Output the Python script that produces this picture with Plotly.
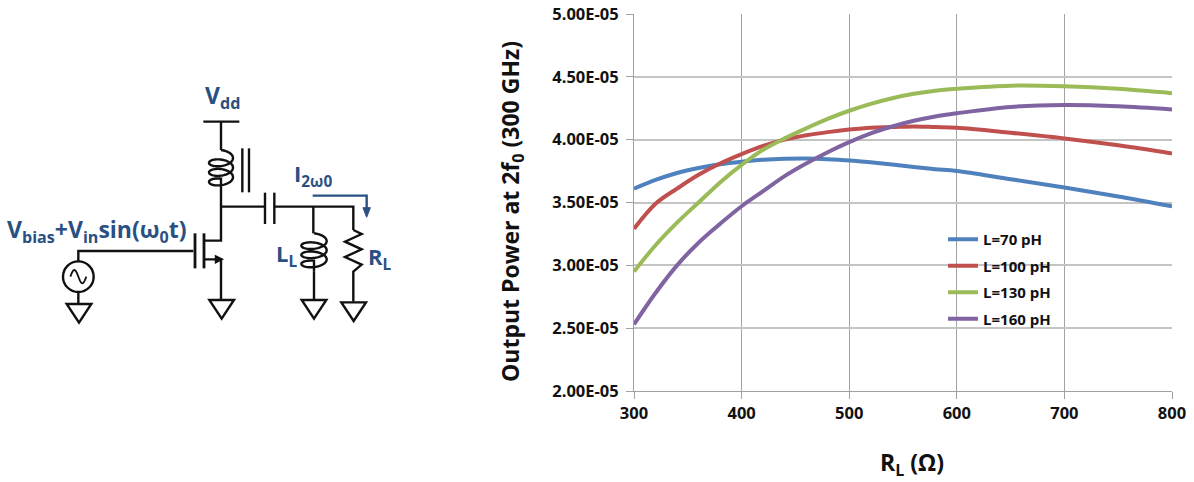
import math
import plotly.graph_objects as go

W, H = 1194, 482
RL = [300, 320, 340, 360, 380, 400, 420, 440, 460, 480, 500, 520, 540, 560, 580, 600, 650, 700, 750, 800]
L70 = [3.61, 3.68, 3.735, 3.775, 3.805, 3.825, 3.84, 3.848, 3.85, 3.845, 3.835, 3.82, 3.802, 3.783, 3.765, 3.75, 3.685, 3.62, 3.548, 3.47]
L100 = [3.29, 3.49, 3.61, 3.72, 3.81, 3.885, 3.95, 4.00, 4.035, 4.06, 4.08, 4.095, 4.10, 4.105, 4.10, 4.095, 4.055, 4.01, 3.955, 3.89]
L130 = [2.95, 3.16, 3.34, 3.50, 3.66, 3.80, 3.92, 4.01, 4.09, 4.165, 4.23, 4.285, 4.33, 4.365, 4.39, 4.405, 4.43, 4.425, 4.405, 4.37]
L160 = [2.53, 2.78, 3.00, 3.18, 3.33, 3.47, 3.59, 3.71, 3.81, 3.90, 3.98, 4.05, 4.105, 4.15, 4.185, 4.21, 4.26, 4.275, 4.265, 4.24]
SERIES = [("L=70 pH", L70, "#4f81bd"), ("L=100 pH", L100, "#c0504d"),
          ("L=130 pH", L130, "#9bbb59"), ("L=160 pH", L160, "#8064a2")]
Y_TICKS = [2.0, 2.5, 3.0, 3.5, 4.0, 4.5, 5.0]
Y_LABELS = ["2.00E-05", "2.50E-05", "3.00E-05", "3.50E-05", "4.00E-05", "4.50E-05", "5.00E-05"]
X_TICKS = [300, 400, 500, 600, 700, 800]

FONT = "Open Sans"
BLUE = "#2a5082"
INK = "#111111"

fig = go.Figure()
for i, (name, vals, col) in enumerate(SERIES):
    fig.add_trace(go.Scatter(x=RL, y=[v * 1e-5 for v in vals], name=name, mode="lines",
                             legendgroup=str(i),
                             line=dict(color=col, width=4, shape="spline", smoothing=1.0)))

# ---- schematic (zoom-crop coordinates: crop origin (0,70), 3x) ----
def P(zx, zy):
    return (zx / 3 / W, 1 - (70 + zy / 3) / H)

def path(points, close=False):
    s = ""
    for k, (zx, zy) in enumerate(points):
        px, py = P(zx, zy)
        s += ("M" if k == 0 else "L") + f"{px:.5f},{py:.5f} "
    return s + ("Z" if close else "")

shapes = []
def stroke(points, color=INK, width=2.4, close=False):
    shapes.append(dict(type="path", xref="paper", yref="paper", path=path(points, close),
                       line=dict(color=color, width=width), layer="above"))

def coil(cx, y0, y1, a, turns):
    pts = [(cx, y0)]
    n = 160
    b = (y1 - y0) / turns * 0.85
    for j in range(n + 1):
        t = 2 * math.pi * turns * j / n
        y = y0 + b * 0.5 + (y1 - y0 - b) * j / n - b * 0.5 * math.cos(t)
        x = cx + a * math.sin(t)
        pts.append((x, y))
    pts.append((cx, y1))
    return pts

def ground(cx, top):
    stroke([(cx - 37, top), (cx + 37, top), (cx, top + 56)], close=True)

stroke([(610, 155), (718, 155)])
stroke([(663, 155), (663, 240)])
stroke(coil(663, 240, 360, 36, 3))
stroke([(663, 360), (663, 512), (612, 512)])
stroke([(727, 235), (727, 367)])
stroke([(747, 235), (747, 367)])
stroke([(663, 410), (795, 410)])
stroke([(795, 368), (795, 462)])
stroke([(823, 368), (823, 462)])
stroke([(823, 410), (1060, 410), (1060, 480)])
stroke([(1060, 480), (1085, 492), (1035, 515), (1085, 538), (1035, 561), (1085, 584), (1060, 605), (1060, 695)])
stroke([(940, 410), (940, 490)])
stroke(coil(942, 490, 605, 38, 3))
stroke([(942, 605), (942, 690)])
ground(942, 690)
ground(1061, 697)
ground(665, 690)
ground(237, 702)
stroke([(235, 575), (235, 543), (580, 543)])
stroke([(585, 490), (585, 595)], width=2.8)
stroke([(612, 490), (612, 595)], width=2.8)
stroke([(612, 568), (663, 568), (663, 690)])
stroke([(648, 560), (664, 568), (648, 576)], close=True)
stroke([(235, 665), (235, 702)])
cx, cy = P(235, 620)
rx, ry = 46 / 3 / W, 46 / 3 / H
shapes.append(dict(type="circle", xref="paper", yref="paper", x0=cx - rx, x1=cx + rx, y0=cy - ry, y1=cy + ry,
                   line=dict(color=INK, width=2.4), layer="above"))
stroke([(235 + 24 * (j / 20 - 0.5) * 2, 620 - 20 * math.sin(2 * math.pi * j / 20)) for j in range(21)], width=1.8)
stroke([(938, 377), (1100, 377), (1100, 415)], color=BLUE, width=2.4)
shapes.append(dict(type="path", xref="paper", yref="paper", path=path([(1089, 413), (1111, 413), (1100, 442)], True),
                   fillcolor=BLUE, line=dict(color=BLUE, width=1), layer="above"))

def label(text, x, y, size=20, color=BLUE, **kw):
    return dict(text=text, x=x / W, y=1 - y / H, xref="paper", yref="paper", showarrow=False,
                xanchor="center", yanchor="middle",
                font=dict(family=FONT, size=size, color=color, weight="bold"), **kw)

annotations = [
    label("V<sub>dd</sub>", 222, 97, 23),
    label("I<sub>2ω0</sub>", 313, 175, 22),
    label("V<sub>bias</sub>+V<sub>in</sub>sin(ω<sub>0</sub>t)", 97, 230, 23),
    label("L<sub>L</sub>", 286, 255, 22),
    label("R<sub>L</sub>", 380, 258, 22),
    label("R<sub>L</sub> (Ω)", 912, 463, 23, "#111111"),
    label("Output Power at 2f<sub>0</sub> (300 GHz)", 511, 212, 23, "#111111", textangle=-90),
]

fig.update_layout(
    width=W, height=H, margin=dict(l=0, r=0, t=0, b=0, pad=0),
    plot_bgcolor="white", paper_bgcolor="white",
    showlegend=True, shapes=shapes, annotations=annotations,
    font=dict(family=FONT, size=16.5, color="#111111", weight="bold"),
    legend=dict(x=943 / W, y=1 - 223 / H, xanchor="left", yanchor="top", bgcolor="rgba(0,0,0,0)",
                tracegroupgap=4, itemwidth=30, font=dict(family=FONT, size=15, weight="bold")),
    xaxis=dict(domain=[634 / W, 1172 / W], range=[300, 800], tickvals=X_TICKS, ticks="outside", ticklen=7,
               tickcolor="#a0a0a0", showgrid=True, gridcolor="#a3a3a3", gridwidth=1, showline=True,
               linecolor="#a0a0a0", linewidth=1, zeroline=False, anchor="y", automargin=False),
    yaxis=dict(domain=[1 - 391 / H, 1 - 14 / H], range=[2e-5, 5e-5], tickvals=[v * 1e-5 for v in Y_TICKS],
               ticktext=Y_LABELS, ticks="outside", ticklen=7, tickcolor="#a0a0a0", showgrid=True,
               gridcolor="#c4c4c4", gridwidth=2, showline=True, linecolor="#a0a0a0", linewidth=1,
               zeroline=False, anchor="x", automargin=False, ticklabelstandoff=4),
)
fig.write_html("out.html", post_script="document.body.style.margin='0';", config=dict(displayModeBar=False))
